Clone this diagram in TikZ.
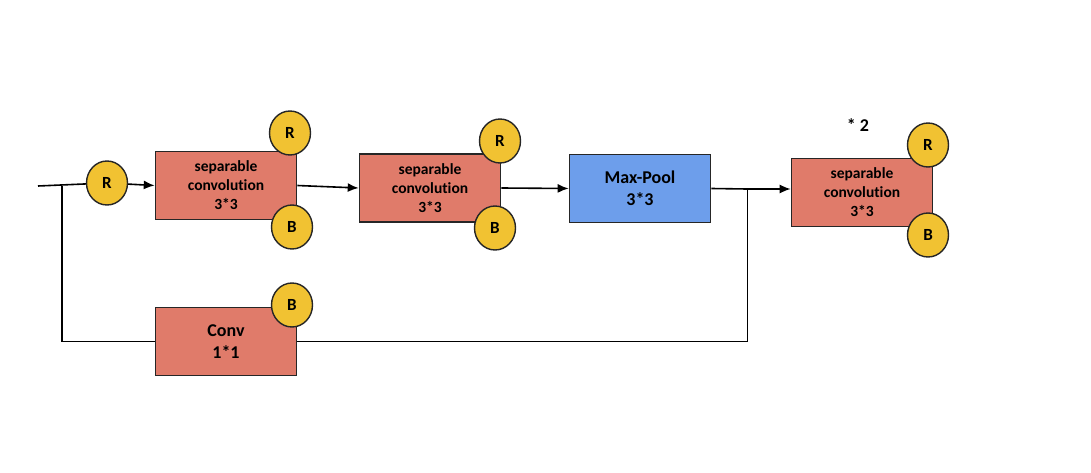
\documentclass[tikz,border=0pt]{standalone}
\usepackage{fontspec}
\setmainfont{Carlito}[Ligatures=NoCommon]
\usepackage{tikz}
\usetikzlibrary{calc,positioning,arrows.meta,shapes.geometric}
\definecolor{boxred}{HTML}{E07B6A}
\definecolor{boxblue}{HTML}{6D9EEB}
\definecolor{opyellow}{HTML}{F1C232}
\tikzset{
    >={Latex[length=11pt,width=9pt]},
    layer/.style={
        rectangle,
        draw=black!85, line width=1.6pt,
        fill=boxred,
        minimum width=141pt,
        minimum height=68pt,
        align=center,
        font={\fontsize{15.5pt}{19}\selectfont\bfseries}
    },
    poollayer/.style={
        layer,
        fill=boxblue,
        font={\fontsize{18pt}{22}\selectfont\bfseries}
    },
    op/.style={
        ellipse,
        draw=black!85, line width=1.4pt,
        fill=opyellow,
        minimum width=41pt,
        minimum height=44pt,
        inner sep=0pt,
        font={\fontsize{17pt}{19}\selectfont\bfseries}
    },
    flow/.style={draw, line width=1.6pt},
}

\begin{document}
\begin{tikzpicture}[x=1pt, y=-1pt]
\useasboundingbox (0,0) rectangle (1091,473);
% layers
\node[layer] (sepA) at (226, 185.5){separable\\convolution\\3*3};
\node[layer] (sepB) at (430, 188){separable\\convolution\\3*3};
\node[poollayer] (pool) at (640, 188.5){Max-Pool\\3*3};
\node[layer] (sepC) at (862, 192.5){separable\\convolution\\3*3};
\node[layer, font={\fontsize{18pt}{22}\selectfont\bfseries}] (conv) at (226, 341.5){Conv\\1*1};
\node[font={\fontsize{18pt}{20}\selectfont\bfseries}] (times) at (858, 125){* 2};
% relu / batchnorm
\node[op] (reluIn) at (107, 183){R};
\node[op] (reluA) at (290, 133){R};
\node[op] (bnA) at (292, 227){B};
\node[op] (reluB) at (500, 141){R};
\node[op] (bnB) at (495, 228){B};
\node[op] (reluC) at (928, 145){R};
\node[op] (bnC) at (928, 235){B};
\node[op] (bnConv) at (292, 305){B};
% connections
\coordinate (input) at (38, 186);
\coordinate (split) at (62, 186);
\coordinate (merge) at (747, 189);
\draw[flow] (input) -- (reluIn);
\draw[flow, ->] (reluIn) -- (sepA.west);
\draw[flow, ->] (sepA.east) -- (sepB.west);
\draw[flow, ->] (sepB.east) -- (pool.west);
\draw[flow] (pool.east) -- (merge);
\draw[flow, ->] (merge) -- (merge -| sepC.west);
\draw[flow] (split) |- (conv.west);
\draw[line width=1pt] (conv.east) -| (merge);
\end{tikzpicture}
\end{document}
